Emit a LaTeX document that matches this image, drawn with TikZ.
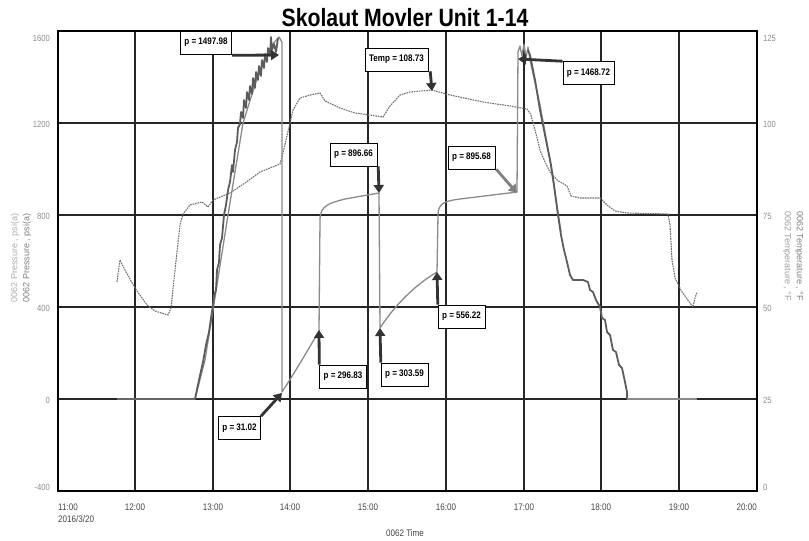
\documentclass[tikz,border=0pt]{standalone}
\usepackage{fontspec}
\setmainfont{Liberation Sans}
\newfontfamily\narrowfont[FakeStretch=0.85]{Liberation Sans}
\usetikzlibrary{arrows.meta}

\definecolor{tickgray}{HTML}{8C8C8C}
\definecolor{labelgray}{HTML}{444444}
\definecolor{presslight}{HTML}{8A8A8A}
\definecolor{pressdark}{HTML}{5C5C5C}
\definecolor{tempgray}{HTML}{707070}

\tikzset{
  gridline/.style={draw=black!85, line width=1.7pt},
  frameline/.style={draw=black, line width=2pt},
  ytick/.style={font=\narrowfont\fontsize{9}{10}\selectfont, text=tickgray, inner sep=0pt},
  xtick/.style={font=\narrowfont\fontsize{9.5}{10}\selectfont, text=labelgray, inner sep=0pt, anchor=base},
  pressthin/.style={draw=presslight, line width=1.3pt, line join=round},
  pressthick/.style={draw=pressdark, line width=1.8pt, line join=round},
  templine/.style={draw=tempgray, line width=1.1pt, dash pattern=on 1.6pt off 0.9pt},
  pbox/.style={draw=black, fill=white, line width=0.6pt, inner xsep=4pt, minimum height=23pt,
    font=\narrowfont\bfseries\fontsize{9.5}{10}\selectfont},
  parrow/.style={draw=black!80, line width=2.8pt, -{Triangle[length=8pt,width=10pt]}},
  parrowgray/.style={draw=black!50, line width=2.8pt, -{Triangle[length=8pt,width=10pt]}}
}

\begin{document}
\begin{tikzpicture}[x=1pt, y=-1pt]
\useasboundingbox (0,0) rectangle (809,541);

% title
\node[anchor=base, font=\narrowfont\bfseries\fontsize{25}{28}\selectfont] (title) at (405,26) {Skolaut Movler Unit 1-14};

% grid
\foreach \gx in {135,213,290,368,446,524,601,679}
  \draw[gridline] (\gx,31) -- (\gx,491);
\foreach \gy in {123,215,307,399}
  \draw[gridline, line width=2pt] (58,\gy) -- (757,\gy);
\draw[frameline] (58,31) rectangle (757,491);

% left ticks
\foreach \v/\y in {1600/38, 1200/124, 800/216, 400/308, 0/400, -400/487}
  \node[ytick, anchor=east] at (50,\y) {\v};
% right ticks
\foreach \v/\y in {125/38, 100/124, 75/216, 50/308, 25/400, 0/487}
  \node[ytick, anchor=west] at (763,\y) {\v};

% time ticks
\node[xtick, anchor=base west] (t11) at (58,510.5) {11:00};
\foreach \gx/\t in {135/12:00, 213/13:00, 290/14:00, 368/15:00, 446/16:00, 524/17:00, 601/18:00, 679/19:00}
  \node[xtick] at (\gx,510.5) {\t};
\node[xtick, anchor=base east] (t20) at (757,510.5) {20:00};
\node[xtick, anchor=base west] (date) at (58,522) {2016/3/20};
\node[xtick] (xlabel) at (405,536) {0062 Time};

% axis titles
\node[rotate=90, align=center, font=\fontsize{9}{12}\selectfont, inner sep=0pt] (ylabel) at (21,258)
  {\textcolor{gray!65}{0062 Pressure , psi(a)}\\\textcolor{gray}{0062 Pressure , psi(a)}};
\node[rotate=-90, align=center, font=\fontsize{9}{12}\selectfont, inner sep=0pt] (ylabelr) at (793,256)
  {\textcolor{gray}{0062 Temperature , \textdegree F}\\\textcolor{gray!75}{0062 Temperature , \textdegree F}};

% temperature
\draw[templine] (117,282) -- (120,260) -- (126,272) -- (135,288) -- (147,305) -- (155,311)
  -- (168,315) -- (171,308) -- (175,270) -- (180,225) -- (183,214) -- (190,205) -- (202,202)
  -- (208,207) -- (213,200) -- (230,193) -- (245,183) -- (260,172) -- (280,164) -- (283,153)
  -- (290,123) -- (293,110) -- (300,98) -- (310,95) -- (320,93) -- (325,101) -- (340,108)
  -- (355,113) -- (370,115) -- (383,117) -- (390,106) -- (400,95) -- (410,92) -- (432,90)
  -- (450,95) -- (483,102) -- (510,106) -- (527,109) -- (531,115) -- (535,130) -- (540,150)
  -- (545,162) -- (550,172) -- (557,180) -- (567,186) -- (571,196) -- (580,198) -- (600,198)
  -- (607,205) -- (615,211) -- (627,213) -- (668,214) -- (670,225) -- (672,260) -- (675,278)
  -- (682,292) -- (693,307) -- (695,298) -- (697,292);

% pressure, thin series
\draw[pressthin] (117,399) -- (195,399) -- (205,360) -- (213,310) -- (228,215) -- (243,123)
  -- (258,75) -- (272,45) -- (279,37) -- (282,42) -- (282,392)
  .. controls (295,372) and (308,350) .. (319,331) -- (320,220)
  .. controls (320,205) and (330,203) .. (345,199) -- (379,193) -- (380,328)
  .. controls (395,305) and (415,285) .. (437,272) -- (438,215)
  .. controls (438,203) and (445,201) .. (460,199) -- (517,192) -- (518,52)
  -- (520,46) -- (522,56) -- (524,44) -- (526,58) -- (528,47) -- (530,60) -- (540,105)
  -- (550,160) -- (556,200) -- (561,232);

% pressure, thick series
\draw[pressthick] (195,399) -- (199,380) -- (203,362) -- (206,345) -- (209,332) -- (211,318)
  -- (213,305) -- (214,296) -- (216,290) -- (217,270) -- (219,262) -- (220,245) -- (222,238)
  -- (224,215) -- (226,205) -- (228,190) -- (230,182) -- (232,165) -- (233,172) -- (235,150)
  -- (237,142) -- (238,128) -- (240,124) -- (241,112) -- (243,118) -- (244,100) -- (246,108)
  -- (247,92) -- (249,100) -- (250,86) -- (252,94) -- (253,78) -- (255,88) -- (256,72)
  -- (258,80) -- (259,66) -- (261,76) -- (262,60) -- (264,68) -- (265,54) -- (267,62)
  -- (268,48) -- (270,56) -- (271,37) -- (272,50) -- (274,44) -- (276,52) -- (278,38);
\draw[pressthick] (528,50) -- (530,55) -- (535,80) -- (540,110) -- (545,135) -- (548,150)
  -- (551,165) -- (554,185) -- (556,200) -- (558,215) -- (561,235) -- (564,250) -- (567,262)
  -- (570,275) -- (573,280) -- (583,280) -- (588,282) -- (590,290) -- (593,292) -- (596,300)
  -- (600,307) -- (602,318) -- (605,320) -- (607,332) -- (610,335) -- (613,350) -- (616,352)
  -- (619,365) -- (622,368) -- (625,382) -- (627,392) -- (627,399);
\draw[pressthin] (627,399) -- (697,399);

% callouts
\node[pbox] (p1498) at (206,42.5) {p = 1497.98};
\node[pbox] (tmax) at (396.5,59.5) {Temp = 108.73};
\node[pbox] (p1469) at (588.5,73) {p = 1468.72};
\node[pbox] (p897) at (353.5,154.5) {p = 896.66};
\node[pbox] (p896) at (471.5,157.5) {p = 895.68};
\node[pbox] (p297) at (343,376.5) {p = 296.83};
\node[pbox] (p304) at (404.5,374.5) {p = 303.59};
\node[pbox] (p556) at (461.5,316.5) {p = 556.22};
\node[pbox] (p31) at (239.5,428) {p = 31.02};

\coordinate (c1498) at (279,55);
\coordinate (ctmax) at (432,91);
\coordinate (c1469) at (518,59);
\coordinate (c897) at (379,193);
\coordinate (c896) at (517,193);
\coordinate (c297) at (319,330);
\coordinate (c304) at (380,328);
\coordinate (c556) at (437,272);
\coordinate (c31) at (282,393);

\draw[parrow] ([yshift=-1pt]p1498.south east) -- (c1498);
\draw[parrow] ([xshift=2pt]tmax.south east) -- (ctmax);
\draw[parrow] (p1469.north west) -- (c1469);
\draw[parrow] ([xshift=1pt]p897.south east) -- (c897);
\draw[parrowgray] ([xshift=1pt]p896.south east) -- (c896);
\draw[parrow] (p297.north west) -- (c297);
\draw[parrow] (p304.north west) -- (c304);
\draw[parrow] (p556.north west) -- (c556);
\draw[parrow] (p31.north east) -- (c31);
\end{tikzpicture}
\end{document}
